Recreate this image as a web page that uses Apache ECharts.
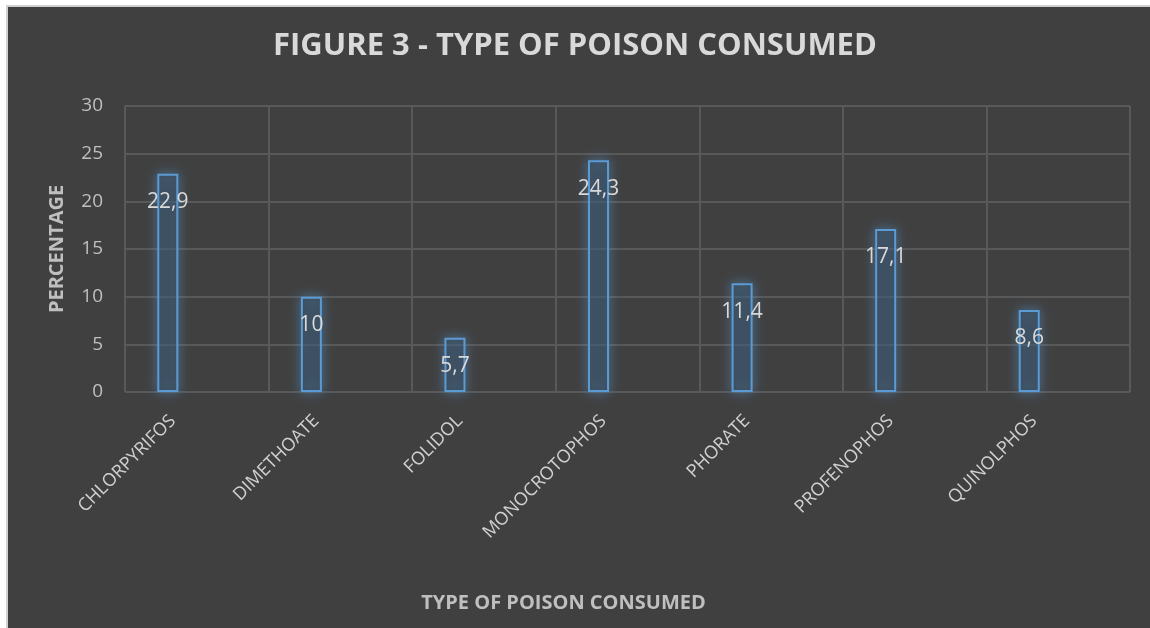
<!DOCTYPE html>
<html>
<head>
<meta charset="utf-8">
<script src="https://cdn.jsdelivr.net/npm/echarts@6/dist/echarts.min.js"></script>
<style>
    html, body { margin: 0; padding: 0; background: #ffffff; overflow: hidden; }
    #main { position: absolute; left: 0; top: 0; width: 1150px; height: 628px; background: #404040; }
    .strip { position: absolute; background: #ffffff; pointer-events: none; }
    .edge { position: absolute; background: #d0d0d0; pointer-events: none; }
</style>
</head>
<body>
<div id="main"></div>
<div class="strip" style="left:0;top:0;width:1150px;height:5px"></div>
<div class="strip" style="left:0;top:0;width:6px;height:628px"></div>
<div class="edge" style="left:6px;top:5px;width:1144px;height:2px"></div>
<div class="edge" style="left:6px;top:5px;width:2px;height:623px"></div>
<script>
var categories = ['CHLORPYRIFOS', 'DIMETHOATE', 'FOLIDOL', 'MONOCROTOPHOS', 'PHORATE', 'PROFENOPHOS', 'QUINOLPHOS'];
var percentages = [22.9, 10, 5.7, 24.3, 11.4, 17.1, 8.6];
// the original chart had an empty second series that pushes the bars left
var emptySeries = [null, null, null, null, null, null, null];

var font = '"Open Sans", sans-serif';

var option = {
    backgroundColor: 'transparent',
    animation: false,
    title: {
        text: 'FIGURE 3 - TYPE OF POISON CONSUMED',
        left: 'center',
        top: 31,
        padding: [0, 0, 0, 14],
        textStyle: { color: '#d9d9d9', fontSize: 31, fontWeight: 'bold', fontFamily: font }
    },
    grid: { left: 125, right: 20, top: 106, bottom: 236 },
    xAxis: {
        type: 'category',
        data: categories,
        name: 'TYPE OF POISON CONSUMED',
        nameLocation: 'middle',
        nameGap: 201,
        nameTextStyle: { color: '#bfbfbf', fontSize: 20, fontWeight: 'bold', fontFamily: font, padding: [0, 128, 0, 0] },
        axisLine: { show: false },
        axisTick: { show: false },
        axisLabel: { rotate: 45, color: '#d0d0d0', fontSize: 18, fontFamily: font, margin: 2, interval: 0, padding: [0, 34, 0, 0] },
        splitLine: { show: true, lineStyle: { color: '#595959', width: 2 } }
    },
    yAxis: {
        type: 'value',
        min: 0,
        max: 30,
        interval: 5,
        name: 'PERCENTAGE',
        nameLocation: 'middle',
        nameGap: 58,
        nameTextStyle: { color: '#bfbfbf', fontSize: 20, fontWeight: 'bold', fontFamily: font },
        axisLine: { show: false },
        axisTick: { show: false },
        axisLabel: { color: '#bfbfbf', fontSize: 19, fontFamily: font, margin: 22 },
        splitLine: { lineStyle: { color: '#595959', width: 2 } }
    },
    series: [
        {
            name: 'Percentage',
            type: 'bar',
            data: percentages,
            barWidth: 21,
            barGap: '176%',
            itemStyle: {
                color: 'rgba(40,50,60,0.35)',
                borderColor: '#5b9bd5',
                borderWidth: 2,
                shadowBlur: 12,
                shadowColor: 'rgba(91,155,213,0.95)'
            },
            label: {
                show: true,
                position: 'insideTop',
                distance: 18,
                color: '#d9d9d9',
                fontSize: 21,
                fontFamily: font,
                formatter: function (p) { return String(p.value).replace('.', ','); }
            }
        },
        {
            name: 'Empty',
            type: 'bar',
            data: emptySeries,
            barWidth: 21
        }
    ]
};

var myChart = echarts.init(document.getElementById('main'));
myChart.setOption(option);
</script>
</body>
</html>
